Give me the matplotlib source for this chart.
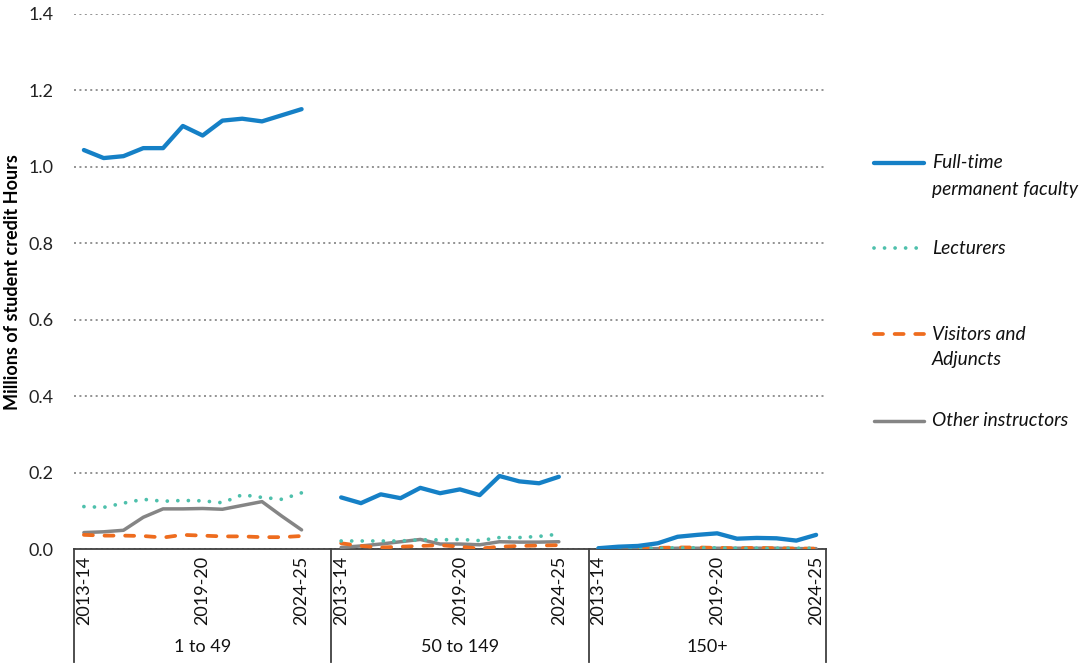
import matplotlib
matplotlib.use("Agg")
import matplotlib.pyplot as plt
from matplotlib.lines import Line2D
import matplotlib.transforms as mtransforms

plt.rcParams['font.family'] = ['Lato', 'DejaVu Sans']

years = ["2013-14", "2014-15", "2015-16", "2016-17", "2017-18", "2018-19",
         "2019-20", "2020-21", "2021-22", "2022-23", "2023-24", "2024-25"]
groups = ["1 to 49", "50 to 149", "150+"]
shown_year_labels = ["2013-14", "2019-20", "2024-25"]

full_time = [
    [1.044, 1.023, 1.028, 1.049, 1.049, 1.107, 1.082, 1.121, 1.126, 1.119, 1.135, 1.151],
    [0.135, 0.120, 0.143, 0.133, 0.160, 0.146, 0.156, 0.141, 0.191, 0.177, 0.172, 0.189],
    [0.002, 0.006, 0.008, 0.015, 0.032, 0.037, 0.041, 0.027, 0.029, 0.028, 0.022, 0.037],
]
lecturers = [
    [0.111, 0.109, 0.120, 0.130, 0.125, 0.127, 0.126, 0.121, 0.142, 0.135, 0.130, 0.147],
    [0.021, 0.021, 0.021, 0.021, 0.024, 0.024, 0.025, 0.022, 0.030, 0.030, 0.033, 0.039],
    [0.002, 0.002, 0.002, 0.002, 0.003, 0.003, 0.003, 0.002, 0.002, 0.002, 0.002, 0.002],
]
visitors = [
    [0.037, 0.035, 0.035, 0.034, 0.030, 0.037, 0.035, 0.033, 0.033, 0.031, 0.031, 0.034],
    [0.015, 0.008, 0.004, 0.006, 0.008, 0.010, 0.006, 0.001, 0.006, 0.008, 0.009, 0.010],
    [0.001, 0.002, 0.002, 0.003, 0.004, 0.004, 0.003, 0.002, 0.003, 0.002, 0.001, 0.001],
]
others = [
    [0.043, 0.045, 0.049, 0.083, 0.105, 0.105, 0.106, 0.104, 0.114, 0.124, 0.086, 0.050],
    [0.004, 0.008, 0.013, 0.019, 0.025, 0.013, 0.013, 0.011, 0.019, 0.018, 0.018, 0.019],
    [0.001, 0.001, 0.001, 0.001, 0.002, 0.002, 0.002, 0.002, 0.002, 0.002, 0.001, 0.001],
]

series_names = ["Full-time\npermanent faculty", "Lecturers", "Visitors and\nAdjuncts", "Other instructors"]
series_data = [full_time, lecturers, visitors, others]

styles = [
    dict(color="#1580C6", lw=3.1, ls="-", solid_capstyle="round"),
    dict(color="#4EC0AC", lw=2.7, ls=(0, (0.01, 2.8)), dash_capstyle="round"),
    dict(color="#EE6C1E", lw=2.7, ls=(0, (2.4, 3.1)), dash_capstyle="round"),
    dict(color="#858585", lw=2.5, ls="-", solid_capstyle="round"),
]

W, H = 1089, 666
fig = plt.figure(figsize=(W / 100, H / 100), dpi=100)
ax = fig.add_axes([74 / W, (H - 549) / H, (826 - 74) / W, (549 - 14) / H])

slot = 13  # 12 years + one blank category between groups
zorders = {0: 6, 1: 5, 2: 4, 3: 3}
for s in [3, 2, 1, 0]:
    for g in range(len(groups)):
        xs = [g * slot + i for i in range(len(years))]
        ax.plot(xs, series_data[s][g], zorder=zorders[s], **styles[s])

ax.set_xlim(-0.5, 2 * slot + len(years) - 0.5)
ax.set_ylim(0, 1.4)
ax.set_yticks([0.0, 0.2, 0.4, 0.6, 0.8, 1.0, 1.2, 1.4])
ax.set_yticklabels([f"{v:.1f}" for v in ax.get_yticks()])
ax.yaxis.grid(True, color="#8a8a8a", lw=1.3, ls=(0, (1.1, 1.9)))
ax.set_axisbelow(True)
ax.tick_params(axis='y', length=0, labelsize=13, colors="#222222", pad=15)
ax.set_xticks([])
for sp in ["top", "right", "left"]:
    ax.spines[sp].set_visible(False)
ax.spines["bottom"].set_color("#404040")
ax.spines["bottom"].set_linewidth(1.3)
ax.set_ylabel("Millions of student credit Hours", fontsize=13, fontweight="bold")
ax.yaxis.label.set_verticalalignment("center")
ax.yaxis.set_label_coords((12 - 74) / 752, (549 - 282) / 535)

trans = mtransforms.blended_transform_factory(ax.transData, ax.transAxes)
bottom_axes = -(662 - 549) / (549 - 14)
seps = [-0.5, slot - 0.5, 2 * slot - 0.5, 2 * slot + len(years) - 0.5]
for xv in seps:
    ax.add_artist(Line2D([xv, xv], [0, bottom_axes], transform=trans, color="#404040",
                         lw=1.3, clip_on=False))

for g, name in enumerate(groups):
    for lab in shown_year_labels:
        i = years.index(lab)
        ax.text(g * slot + i, -7 / 535, lab, transform=trans, rotation=90,
                ha="center", va="top", fontsize=13, color="#111111")
    ax.text((seps[g] + seps[g + 1]) / 2, -(647 - 549) / 535,
            name, transform=trans, ha="center", va="center", fontsize=13, color="#111111")

# legend (manual, to match first-line alignment)
leg_y = [163, 248, 334, 421]
for s, y in enumerate(leg_y):
    fig.add_artist(Line2D([874 / W, 924 / W], [(H - y) / H] * 2, **styles[s]))
    lines = series_names[s].split("\n")
    for k, t in enumerate(lines):
        fig.text(932 / W, (H - y - k * 26) / H, t, ha="left", va="center",
                 fontsize=13.8, style="italic", color="#111111")

fig.savefig("out.png", dpi=100)
